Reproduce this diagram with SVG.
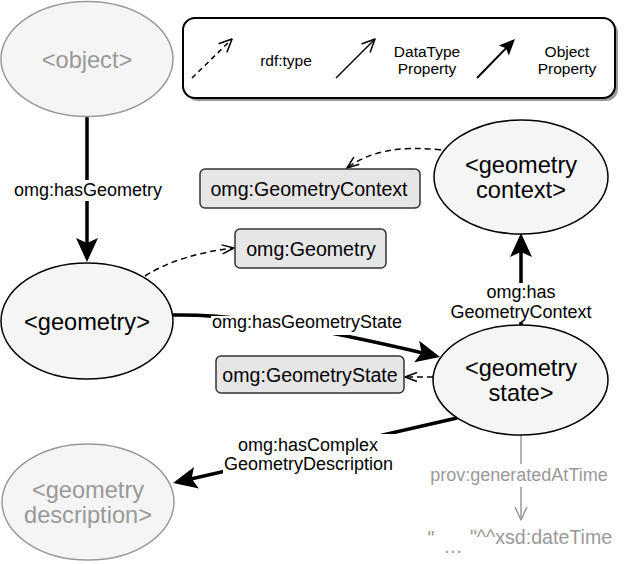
<svg xmlns="http://www.w3.org/2000/svg" width="624" height="564" viewBox="0 0 624 564">
<defs>
<style>
text{font-family:"Liberation Sans",Arial,sans-serif;text-anchor:middle}
.node{fill:#f5f5f5;stroke:#000;stroke-width:1.5}
.gnode{fill:#f5f5f5;stroke:#999;stroke-width:1.5}
.nt{font-size:23.6px;fill:#000}
.gt{font-size:23.6px;fill:#999}
.type{fill:#e6e6e6;stroke:#333;stroke-width:1.5}
.tt{font-size:19.6px;fill:#000}
.obj{fill:none;stroke:#000;stroke-width:3.5}
.dash{fill:none;stroke:#000;stroke-width:1.5;stroke-dasharray:6 4}
.lbl{font-size:18px;fill:#000}
.glbl{font-size:18px;fill:#999}
.bg{fill:#fff}
.leg{font-size:15.5px;fill:#000}
</style>
<marker id="mObj" markerUnits="userSpaceOnUse" viewBox="-20 -13 28 26" markerWidth="28" markerHeight="26" refX="0" refY="0" orient="auto">
<path d="M6,0 L-18,-11 L-13,0 L-18,11 Z" fill="#000"/>
</marker>
<marker id="mObjS" markerUnits="userSpaceOnUse" viewBox="-14 -9 20 18" markerWidth="20" markerHeight="18" refX="0" refY="0" orient="auto">
<path d="M4,0 L-12,-7 L-9,0 L-12,7 Z" fill="#000"/>
</marker>
<marker id="mOpen" markerUnits="userSpaceOnUse" viewBox="-15 -8 18 16" markerWidth="18" markerHeight="16" refX="0" refY="0" orient="auto">
<path d="M-12,-4.5 L0,0 L-12,4.5" fill="none" stroke="#000" stroke-width="1.5" stroke-linejoin="round"/>
</marker>
<marker id="mOpenL" markerUnits="userSpaceOnUse" viewBox="-15 -8 18 16" markerWidth="18" markerHeight="16" refX="0" refY="0" orient="auto">
<path d="M-13,-6 L0,0 L-13,6" fill="none" stroke="#000" stroke-width="1.5" stroke-linejoin="round"/>
</marker>
<marker id="mOpenG" markerUnits="userSpaceOnUse" viewBox="-15 -8 18 16" markerWidth="18" markerHeight="16" refX="0" refY="0" orient="auto">
<path d="M-13,-6 L0,0 L-13,6" fill="none" stroke="#999" stroke-width="1.5" stroke-linejoin="round"/>
</marker>
</defs>
<rect width="624" height="564" fill="#fff"/>

<g id="legend">
<rect x="186" y="21" width="432" height="80" rx="12" fill="#999"/>
<rect x="183" y="18" width="432" height="80" rx="12" fill="#fff" stroke="#000" stroke-width="2"/>
<path d="M192,78 L232,39" fill="none" stroke="#000" stroke-width="1.5" stroke-dasharray="5 4" marker-end="url(#mOpenL)"/>
<text class="leg" x="286" y="66">rdf:type</text>
<path d="M336,78 L375,39" fill="none" stroke="#000" stroke-width="1.5" marker-end="url(#mOpenL)"/>
<text class="leg" x="427" y="57">DataType</text>
<text class="leg" x="427" y="74">Property</text>
<path d="M477,78 L512.2,41.9" fill="none" stroke="#000" stroke-width="2" marker-end="url(#mObjS)"/>
<text class="leg" x="567" y="57">Object</text>
<text class="leg" x="567" y="74">Property</text>
</g>

<g id="connectors">
<path class="obj" d="M87,117 L87,256" marker-end="url(#mObj)"/>
<path class="obj" d="M173,315 C230,314 300,324 434.2,355.7" marker-end="url(#mObj)"/>
<path class="obj" d="M521,326 L521,239" marker-end="url(#mObj)"/>
<path class="obj" d="M457,418 L178.9,481.7" marker-end="url(#mObj)"/>
<path d="M521,435 L521,520" fill="none" stroke="#999" stroke-width="1.5" marker-end="url(#mOpenG)"/>
<path class="dash" d="M441,150 Q380,143 347,168" marker-end="url(#mOpen)"/>
<path class="dash" d="M145,276 Q180,254 234,248" marker-end="url(#mOpen)"/>
<path class="dash" d="M433,377 L405,377" marker-end="url(#mOpen)"/>

<rect class="bg" x="13" y="180" width="150" height="21"/>
<text class="lbl" x="88" y="196">omg:hasGeometry</text>
<rect class="bg" x="211" y="316" width="192" height="19"/>
<text class="lbl" x="307" y="328">omg:hasGeometryState</text>
<rect class="bg" x="450" y="283" width="142" height="39"/>
<text class="lbl" x="521" y="297.5">omg:has</text>
<text class="lbl" x="521" y="317.5">GeometryContext</text>
<rect class="bg" x="223" y="434" width="172" height="40"/>
<text class="lbl" x="308" y="450.5">omg:hasComplex</text>
<text class="lbl" x="308.5" y="469.5">GeometryDescription</text>
<rect class="bg" x="429" y="464" width="180" height="23"/>
<text class="glbl" x="519" y="481">prov:generatedAtTime</text>
</g>

<g id="object">
<ellipse class="gnode" cx="87" cy="59" rx="86" ry="57.5"/>
<text class="gt" x="87" y="68">&lt;object&gt;</text>
</g>

<g id="geometry">
<ellipse class="node" cx="87" cy="321" rx="86" ry="58"/>
<text class="nt" x="87" y="330">&lt;geometry&gt;</text>
</g>

<g id="geometry-context">
<ellipse class="node" cx="521" cy="177" rx="87" ry="57"/>
<text class="nt" x="521" y="172.5">&lt;geometry</text>
<text class="nt" x="521" y="197.5">context&gt;</text>
</g>

<g id="geometry-state">
<ellipse class="node" cx="520.5" cy="380" rx="87.5" ry="55"/>
<text class="nt" x="521" y="375.5">&lt;geometry</text>
<text class="nt" x="521" y="400.5">state&gt;</text>
</g>

<g id="geometry-description">
<ellipse class="gnode" cx="88" cy="502" rx="86" ry="58"/>
<text class="gt" x="88" y="497.5">&lt;geometry</text>
<text class="gt" x="88" y="522.5">description&gt;</text>
</g>

<g id="type-GeometryContext">
<rect class="type" x="200" y="169" width="220" height="39" rx="5"/>
<text class="tt" x="309" y="195.5">omg:GeometryContext</text>
</g>

<g id="type-Geometry">
<rect class="type" x="235" y="229" width="151" height="39" rx="5"/>
<text class="tt" x="311" y="255.5">omg:Geometry</text>
</g>

<g id="type-GeometryState">
<rect class="type" x="216" y="356" width="188" height="37" rx="5"/>
<text class="tt" x="310" y="381.5">omg:GeometryState</text>
</g>

<g id="literal">
<text class="glbl" x="431" y="545" style="font-size:19.6px">"</text>
<text class="glbl" x="453" y="553" style="font-size:19.6px">…</text>
<text class="glbl" x="541" y="544" style="font-size:19.6px">"^^xsd:dateTime</text>
</g>
</svg>
